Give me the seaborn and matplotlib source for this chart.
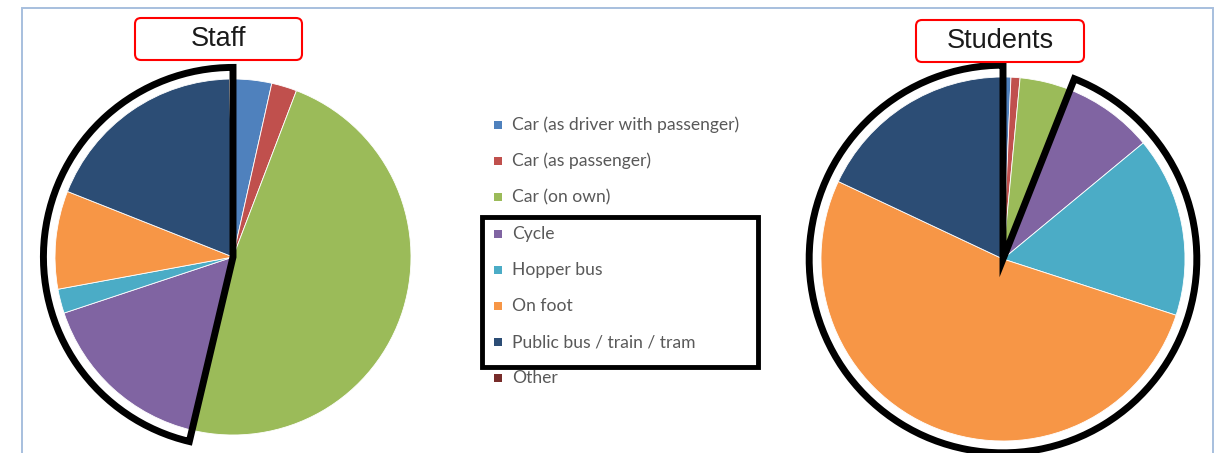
import matplotlib
matplotlib.use("Agg")
import matplotlib.pyplot as plt
from matplotlib.patches import Wedge, Rectangle, FancyBboxPatch
import seaborn as sns
import numpy as np

# ---- data ----
categories = ["Car (as driver with passenger)", "Car (as passenger)", "Car (on own)",
              "Cycle", "Hopper bus", "On foot", "Public bus / train / tram", "Other"]
staff_values = [3.5, 2.3, 47.9, 16.2, 2.2, 8.9, 18.7, 0.3]
student_values = [0.7, 0.8, 4.5, 8.0, 16.0, 52.0, 18.0, 0.0]
highlight = ["Cycle", "Hopper bus", "On foot", "Public bus / train / tram", "Other"]
titles = ["Staff", "Students"]

colors = ["#4F81BD", "#C0504D", "#9BBB59", "#8064A2", "#4BACC6", "#F79646", "#2C4D75", "#772C2A"]

sns.set_theme(style="white")
plt.rcParams['font.family'] = ['Lato', 'DejaVu Sans']

W, H = 1222, 453
fig = plt.figure(figsize=(W / 100, H / 100), dpi=100)
ax = fig.add_axes([0, 0, 1, 1])
ax.set_xlim(0, W)
ax.set_ylim(0, H)
ax.set_aspect('equal')
ax.axis('off')

def Y(y):
    return H - y

# outer chart border
ax.add_patch(Rectangle((22, Y(470)), 1213 - 22, 470 - 8, fill=False,
                       ec="#A7BFDE", lw=1.4, zorder=0))

pies = [
    dict(values=staff_values, center=(233, 257), r=178, title_xy=(218, 39), box=(135, 18, 302, 60)),
    dict(values=student_values, center=(1003, 259), r=182, title_xy=(1000, 41), box=(916, 20, 1084, 62)),
]

first_idx = categories.index(highlight[0])
for p, title in zip(pies, titles):
    cx, cy = p["center"]
    vals = np.array(p["values"], dtype=float)
    ax.pie(vals, colors=colors, startangle=90, counterclock=False,
           center=(cx, Y(cy)), radius=p["r"],
           wedgeprops=dict(edgecolor="white", linewidth=0.6), frame=True)
    # highlight outline around sustainable modes
    frac_before = vals[:first_idx].sum() / vals.sum()
    theta_end = 90 - 360 * frac_before + 360
    ax.add_patch(Wedge((cx, Y(cy)), p["r"] * 1.065, 90, theta_end, fill=False,
                       ec="black", lw=5, joinstyle="miter", zorder=5))
    # title box
    x0, y0, x1, y1 = p["box"]
    ax.add_patch(FancyBboxPatch((x0 + 6, Y(y1) + 6), (x1 - x0) - 12, (y1 - y0) - 12,
                                boxstyle="round,pad=6", fc="white", ec="#FF0000", lw=1.5, zorder=6))
    tx, ty = p["title_xy"]
    ax.text(tx, Y(ty), title, ha="center", va="center", fontsize=19.5,
            family=["Liberation Sans", "DejaVu Sans"], color="#1a1a1a", zorder=7)

ax.set_xlim(0, W)
ax.set_ylim(0, H)
ax.axis('off')

# legend
leg_x, leg_y0, leg_dy = 498, 125, 36.2
for i, (cat, col) in enumerate(zip(categories, colors)):
    y = leg_y0 + i * leg_dy
    ax.add_patch(Rectangle((leg_x - 4, Y(y) - 4), 8, 8, fc=col, ec="none", zorder=4))
    ax.text(leg_x + 14, Y(y), cat, ha="left", va="center", fontsize=12.6,
            color="#595959", zorder=4)

# highlight box around sustainable legend entries
ax.add_patch(Rectangle((482, Y(367)), 758 - 482, 367 - 217, fill=False,
                       ec="black", lw=3.5, joinstyle="miter", zorder=5))

fig.savefig("out.png", dpi=100, facecolor="white")
